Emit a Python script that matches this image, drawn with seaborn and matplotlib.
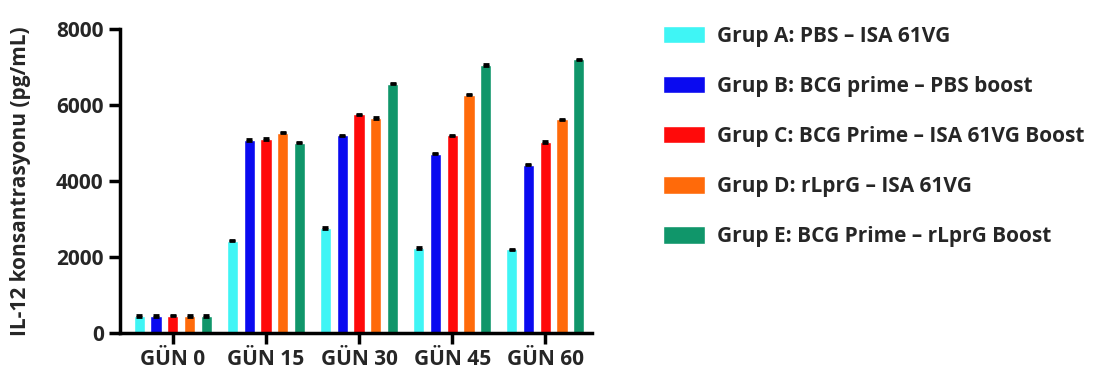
import seaborn as sns
import matplotlib.pyplot as plt
import pandas as pd
import numpy as np

days = ['GÜN 0', 'GÜN 15', 'GÜN 30', 'GÜN 45', 'GÜN 60']
groups = ['Grup A: PBS – ISA 61VG',
          'Grup B: BCG prime – PBS boost',
          'Grup C: BCG Prime – ISA 61VG Boost',
          'Grup D: rLprG – ISA 61VG',
          'Grup E: BCG Prime – rLprG Boost']
grup_a = [450, 2430, 2760, 2230, 2200]
grup_b = [450, 5080, 5200, 4720, 4430]
grup_c = [460, 5100, 5750, 5200, 5020]
grup_d = [450, 5270, 5660, 6270, 5620]
grup_e = [450, 5010, 6560, 7050, 7200]
err = [20, 20, 20, 20, 20]
colors = ['#3ff5f5', '#0a0af0', '#ff0a0a', '#ff6a0a', '#10966a']

rows = []
for g, vals in zip(groups, [grup_a, grup_b, grup_c, grup_d, grup_e]):
    for d, v in zip(days, vals):
        rows.append({'day': d, 'group': g, 'value': v})
df = pd.DataFrame(rows)

sns.set_style('ticks')
plt.rcParams['font.family'] = ['Open Sans', 'DejaVu Sans']
plt.rcParams['font.weight'] = 'bold'

fig = plt.figure(figsize=(10.98, 3.81), dpi=100)
ax = fig.add_axes([0.109, 0.126, 0.43, 0.798])

sns.barplot(data=df, x='day', y='value', hue='group', palette=colors,
            saturation=1, width=0.9, gap=0.33, errorbar=None, ax=ax)

# small black error caps on top of each bar
for cont in list(ax.containers):
    xs = [p.get_x() + p.get_width() / 2 for p in cont.patches]
    ys = [p.get_height() for p in cont.patches]
    ax.errorbar(xs, ys, yerr=err, fmt='none', ecolor='black',
                elinewidth=1.5, capsize=2.5, capthick=2)

ax.set_ylim(0, 8000)
ax.set_xlim(-0.57, 4.5)
ax.set_yticks([0, 2000, 4000, 6000, 8000])
ax.set_xlabel('')
ax.set_ylabel('IL-12 konsantrasyonu (pg/mL)', fontsize=15, fontweight='bold', labelpad=18)
ax.tick_params(axis='both', labelsize=15, width=2.5, length=8, color='black')
for lbl in ax.get_xticklabels() + ax.get_yticklabels():
    lbl.set_fontweight('bold')
sns.despine(ax=ax)
for s in ['left', 'bottom']:
    ax.spines[s].set_linewidth(2.5)
    ax.spines[s].set_color('black')

handles, labels = ax.get_legend_handles_labels()
ax.legend(handles, labels, loc='upper left', bbox_to_anchor=(0.587, 0.982),
          bbox_transform=fig.transFigure, frameon=False,
          handlelength=2.0, handleheight=0.9, labelspacing=1.4,
          handletextpad=0.6, prop={'weight': 'bold', 'size': 15})

fig.savefig('out.png', dpi=100)
